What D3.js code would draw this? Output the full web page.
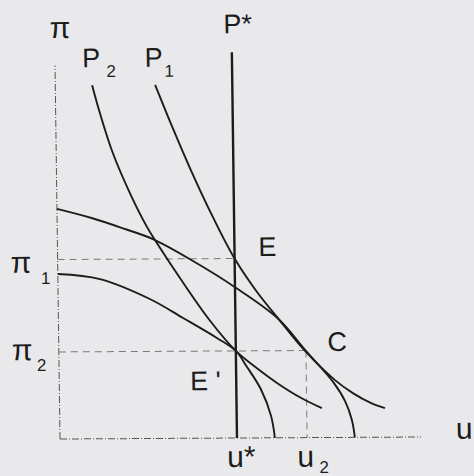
<!DOCTYPE html>
<html>
<head>
<meta charset="utf-8">
<script src="https://cdn.jsdelivr.net/npm/d3@7"></script>
<style>
  html, body { margin: 0; padding: 0; background: #e9e9eb; }
  svg { display: block; }
  text { font-family: "Liberation Sans", Arial, Helvetica, sans-serif; fill: #1c1c1c; }
</style>
</head>
<body>
<svg id="chart" width="474" height="476"></svg>
<script>
// Curves in (u, π) space
const curveP2 = [[1.04, 9.99], [1.25, 9.20], [1.60, 8.07], [2.07, 6.93], [2.54, 5.97], [2.81, 5.52],
                 [3.50, 4.45], [4.25, 3.36], [5.00, 2.46], [5.51, 2.03], [6.15, 1.55], [6.83, 1.12], [7.41, 0.83]];
const curveP1 = [[2.82, 9.99], [3.30, 8.77], [3.80, 7.57], [4.40, 6.25], [5.00, 5.07], [5.60, 4.15],
                 [6.20, 3.38], [6.98, 2.42], [7.79, 1.62], [8.29, 1.25], [8.79, 0.97], [9.19, 0.82]];
const isoUpper = [[0.00, 6.50], [1.00, 6.23], [1.86, 5.94], [2.70, 5.63], [3.80, 5.02], [5.00, 4.26],
                  [6.20, 3.37], [6.98, 2.45], [7.75, 1.55], [8.07, 1.02], [8.25, 0.50], [8.33, 0.00]];
const isoLower = [[0.00, 4.66], [1.19, 4.51], [2.59, 3.94], [3.52, 3.40], [4.47, 2.83], [5.00, 2.46],
                  [5.30, 2.02], [5.69, 1.38], [5.97, 0.62], [6.07, 0.00]];

// Reference levels
const uStar = 5.0, u2 = 6.98;
const pi1 = 5.07, pi2 = 2.46;
const piAxisTop = 10.55, uAxisEnd = 10.2, pStarTop = 10.9;

const svg = d3.select("#chart");
const x = d3.scaleLinear().domain([0, 10]).range([57.5, 411.5]);
const y = d3.scaleLinear().domain([0, 10]).range([438, 84]);

// slight skew of the whole drawing
const g = svg.append("g").attr("transform", "matrix(1,-0.0056,0.0133,1,-3.33,1.33)");

const line = d3.line().x(d => x(d[0])).y(d => y(d[1])).curve(d3.curveCatmullRom.alpha(0.5));

// axes (dash-dot)
g.append("line")
  .attr("x1", x(0)).attr("y1", y(0)).attr("x2", x(0)).attr("y2", y(piAxisTop))
  .attr("stroke", "#555").attr("stroke-width", 1).attr("stroke-dasharray", "7,2,1,2");
g.append("line")
  .attr("x1", x(0)).attr("y1", y(0)).attr("x2", x(uAxisEnd)).attr("y2", y(0))
  .attr("stroke", "#555").attr("stroke-width", 1).attr("stroke-dasharray", "7,2,1,2");

// guide dashes
const guides = [
  [[0, pi1], [uStar, pi1]],
  [[0, pi2], [u2, pi2]],
  [[u2, pi2], [u2, 0]]
];
g.selectAll("line.guide").data(guides).enter().append("line")
  .attr("class", "guide")
  .attr("x1", d => x(d[0][0])).attr("y1", d => y(d[0][1]))
  .attr("x2", d => x(d[1][0])).attr("y2", d => y(d[1][1]))
  .attr("stroke", "#7a7a7a").attr("stroke-width", 1).attr("stroke-dasharray", "7,5");

// vertical P* line
g.append("line")
  .attr("x1", x(uStar)).attr("y1", y(0)).attr("x2", x(uStar)).attr("y2", y(pStarTop))
  .attr("stroke", "#1c1c1c").attr("stroke-width", 2.4);

// curves
g.selectAll("path.curve").data([curveP2, curveP1, isoUpper, isoLower]).enter().append("path")
  .attr("class", "curve")
  .attr("d", line)
  .attr("fill", "none").attr("stroke", "#1c1c1c").attr("stroke-width", 1.9);

// labels
const cap = 27, lower = 30, small = 17;
function label(tx, ty, str, size) {
  g.append("text").attr("x", tx).attr("y", ty).attr("font-size", size).text(str);
}
label(x(0) - 5, y(piAxisTop) - 27.5, "π", lower);
label(x(1.04) - 9.5, y(9.99) - 18, "P", cap);
label(x(1.04) + 14.5, y(9.99) - 8, "2", small);
label(x(2.82) - 10, y(9.99) - 18, "P", cap);
label(x(2.82) + 9.5, y(9.99) - 8, "1", small);
label(x(uStar) - 8, y(pStarTop) - 19, "P*", cap);
label(x(uStar) + 24, y(pi1) - 2.5, "E", cap);
label(x(u2) + 21.5, y(pi2) + 0.5, "C", cap);
label(x(uStar) - 46, y(pi2) + 39, "E '", cap);
label(x(0) - 47, y(pi1) + 13, "π", lower);
label(x(0) - 17, y(pi1) + 24.5, "1", small);
label(x(0) - 47, y(pi2) + 8, "π", lower);
label(x(0) - 22, y(pi2) + 19, "2", small);
label(x(uAxisEnd) + 35, y(0) + 2, "u", lower);
label(x(uStar) - 10, y(0) + 29, "u*", lower);
label(x(u2) - 10, y(0) + 29, "u", lower);
label(x(u2) + 12, y(0) + 35.5, "2", small);
</script>
</body>
</html>
